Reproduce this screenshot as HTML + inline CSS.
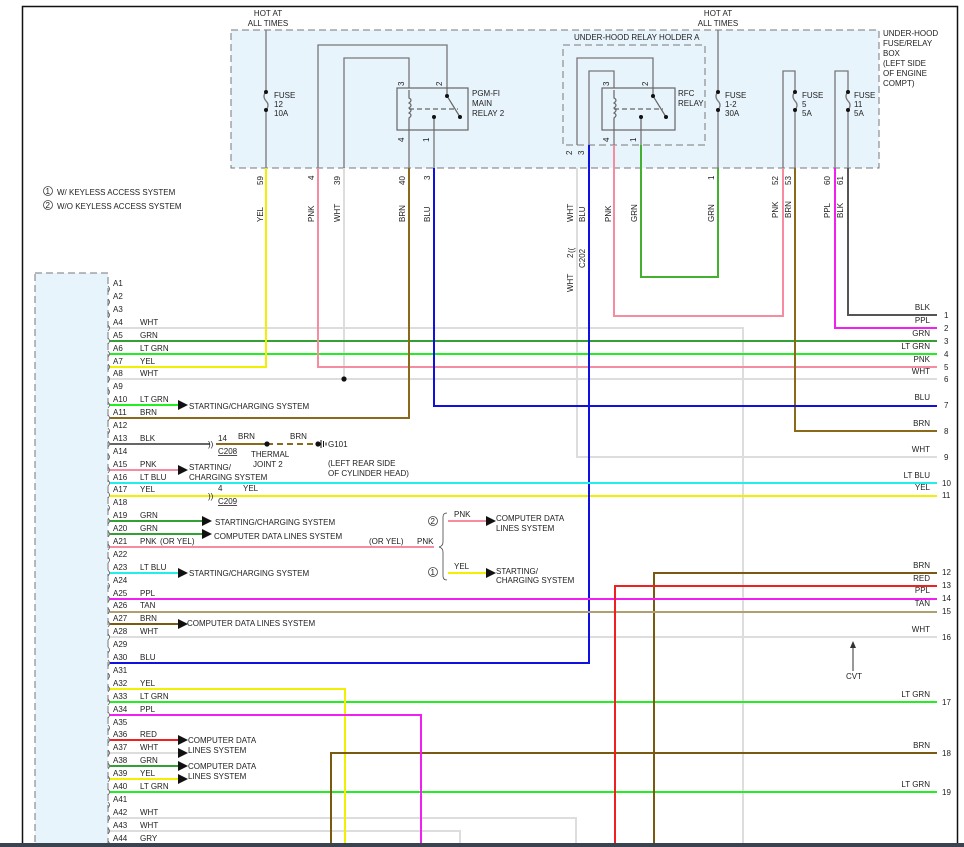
<!DOCTYPE html>
<html><head><meta charset="utf-8"><style>
html,body{margin:0;padding:0;background:#fff;}
svg{display:block;font-family:"Liberation Sans",sans-serif;}
text{font-size:8px;fill:#222;}
</style></head><body>
<svg width="964" height="847" viewBox="0 0 964 847" xmlns="http://www.w3.org/2000/svg">
<!-- frame -->
<path d="M22.5 847 V6.5 H957.5 V847" fill="none" stroke="#111" stroke-width="1.5"/>
<!-- fuse box -->
<rect x="231" y="30" width="648" height="138" fill="#e8f4fc" stroke="#777" stroke-dasharray="7,4"/>
<rect x="563" y="45" width="142" height="100" fill="none" stroke="#777" stroke-dasharray="7,4"/>
<!-- left module -->
<rect x="35" y="273" width="73" height="580" fill="#e8f4fc" stroke="#777" stroke-dasharray="7,4"/>

<text x="268" y="16" text-anchor="middle">HOT AT</text><text x="268" y="26" text-anchor="middle">ALL TIMES</text>
<text x="718" y="16" text-anchor="middle">HOT AT</text><text x="718" y="26" text-anchor="middle">ALL TIMES</text>
<text x="883" y="36">UNDER-HOOD</text><text x="883" y="46">FUSE/RELAY</text><text x="883" y="56">BOX</text><text x="883" y="66">(LEFT SIDE</text><text x="883" y="76">OF ENGINE</text><text x="883" y="86">COMPT)</text>
<text x="574" y="40">UNDER-HOOD RELAY HOLDER A</text>

<g fill="none" stroke="#777" stroke-width="1.3">
<path d="M266 30 V92 M266 110 V168"/>
<path d="M318 168 V45 H447 V88"/>
<path d="M344 168 V58 H409 V88"/>
<path d="M409 130 V168 M434 130 V168"/>
<path d="M577 145 V58 H653 V88"/>
<path d="M589 145 V71 H614 V88"/>
<path d="M614 130 V145 M641 130 V145"/>
<path d="M718 30 V92 M718 110 V168"/>
<path d="M783 168 V71 H795 V92 M795 110 V168"/>
<path d="M835 168 V71 H848 V92 M848 110 V168"/>
<path d="M266 92 q-4 4 0 9 q4 4 0 9 M718 92 q-4 4 0 9 q4 4 0 9 M795 92 q-4 4 0 9 q4 4 0 9 M848 92 q-4 4 0 9 q4 4 0 9"/>
</g>
<g fill="#111"><circle cx="266" cy="92" r="2"/><circle cx="266" cy="110" r="2"/><circle cx="718" cy="92" r="2"/><circle cx="718" cy="110" r="2"/><circle cx="795" cy="92" r="2"/><circle cx="795" cy="110" r="2"/><circle cx="848" cy="92" r="2"/><circle cx="848" cy="110" r="2"/></g>
<text x="274" y="98">FUSE</text><text x="274" y="107">12</text><text x="274" y="116">10A</text>
<text x="725" y="98">FUSE</text><text x="725" y="107">1-2</text><text x="725" y="116">30A</text>
<text x="802" y="98">FUSE</text><text x="802" y="107">5</text><text x="802" y="116">5A</text>
<text x="854" y="98">FUSE</text><text x="854" y="107">11</text><text x="854" y="116">5A</text>
<!-- relays -->
<g fill="none" stroke="#666" stroke-width="1.2">
<rect x="397" y="88" width="71" height="42"/>
<path d="M409 90 V98 q4 2 0 5 q4 2 0 5 q4 2 0 5 q4 2 0 5 V130 M447 88 V96 L460 117 M434 117 V130"/>
<path d="M409 109 H458" stroke-dasharray="5,3"/>
<rect x="602" y="88" width="73" height="42"/>
<path d="M614 90 V98 q4 2 0 5 q4 2 0 5 q4 2 0 5 q4 2 0 5 V130 M653 88 V96 L666 117 M641 117 V130"/>
<path d="M614 109 H663" stroke-dasharray="5,3"/>
</g>
<g fill="#111"><circle cx="447" cy="96" r="2"/><circle cx="460" cy="117" r="2"/><circle cx="434" cy="117" r="2"/><circle cx="653" cy="96" r="2"/><circle cx="666" cy="117" r="2"/><circle cx="641" cy="117" r="2"/></g>
<text x="472" y="96">PGM-FI</text><text x="472" y="106">MAIN</text><text x="472" y="116">RELAY 2</text>
<text x="678" y="96">RFC</text><text x="678" y="106">RELAY</text>
<!-- rotated labels -->
<g>
<text transform="translate(404,86) rotate(-90)">3</text><text transform="translate(442,86) rotate(-90)">2</text>
<text transform="translate(404,142) rotate(-90)">4</text><text transform="translate(429,142) rotate(-90)">1</text>
<text transform="translate(609,86) rotate(-90)">3</text><text transform="translate(648,86) rotate(-90)">2</text>
<text transform="translate(609,142) rotate(-90)">4</text><text transform="translate(636,142) rotate(-90)">1</text>
<text transform="translate(572,155) rotate(-90)">2</text><text transform="translate(584,155) rotate(-90)">3</text>
<text transform="translate(263,185) rotate(-90)">59</text><text transform="translate(314,180) rotate(-90)">4</text>
<text transform="translate(340,185) rotate(-90)">39</text><text transform="translate(405,185) rotate(-90)">40</text>
<text transform="translate(430,180) rotate(-90)">3</text><text transform="translate(714,180) rotate(-90)">1</text>
<text transform="translate(778,185) rotate(-90)">52</text><text transform="translate(791,185) rotate(-90)">53</text>
<text transform="translate(830,185) rotate(-90)">60</text><text transform="translate(843,185) rotate(-90)">61</text>
<text transform="translate(263,222) rotate(-90)">YEL</text><text transform="translate(314,222) rotate(-90)">PNK</text>
<text transform="translate(340,222) rotate(-90)">WHT</text><text transform="translate(405,222) rotate(-90)">BRN</text>
<text transform="translate(430,222) rotate(-90)">BLU</text><text transform="translate(573,222) rotate(-90)">WHT</text>
<text transform="translate(585,222) rotate(-90)">BLU</text><text transform="translate(611,222) rotate(-90)">PNK</text>
<text transform="translate(637,222) rotate(-90)">GRN</text><text transform="translate(714,222) rotate(-90)">GRN</text>
<text transform="translate(778,218) rotate(-90)">PNK</text><text transform="translate(791,218) rotate(-90)">BRN</text>
<text transform="translate(830,218) rotate(-90)">PPL</text><text transform="translate(843,218) rotate(-90)">BLK</text>
<text transform="translate(573,292) rotate(-90)">WHT</text><text transform="translate(573,258) rotate(-90)">2</text>
<text transform="translate(585,268) rotate(-90)">C202</text>
</g>
<circle cx="48" cy="191" r="4.5" fill="none" stroke="#444" stroke-width=".8"/><text x="45.5" y="194" font-size="7">1</text>
<circle cx="48" cy="205" r="4.5" fill="none" stroke="#444" stroke-width=".8"/><text x="45.5" y="208" font-size="7">2</text>
<text x="57" y="195">W/ KEYLESS ACCESS SYSTEM</text><text x="57" y="209">W/O KEYLESS ACCESS SYSTEM</text>

<!-- wires -->
<g fill="none" stroke-width="2">
<path d="M743 847 V328 H110" stroke="#ddd"/>
<path d="M577 168 V457 H937" stroke="#ddd"/>
<path d="M344 168 V379 M110 379 H937" stroke="#ddd"/>
<path d="M110 637 H937" stroke="#ddd"/>
<path d="M110 818 H576 V847" stroke="#ddd"/>
<path d="M110 831 H460 V847" stroke="#ddd"/>
<path d="M110 844 H447" stroke="#ccc"/>
<path d="M110 753 H180" stroke="#ddd"/>
<path d="M110 341 H937" stroke="#33a033"/>
<path d="M641 145 V277 H718 V168" stroke="#44b030"/>
<path d="M110 354 H937 M110 405 H180 M110 702 H937 M110 792 H937" stroke="#22ee22"/>
<path d="M266 168 V367 H110" stroke="#f2f000"/>
<path d="M110 496 H937" stroke="#f2f000"/>
<path d="M110 689 H345 V847" stroke="#f2f000"/>
<path d="M110 779 H180 M448 573 H488" stroke="#f2f000"/>
<path d="M318 168 V367 H937" stroke="#f58ca0"/>
<path d="M614 145 V316 H783 V168" stroke="#f58ca0"/>
<path d="M110 470 H180 M110 547 H434 M448 521 H488" stroke="#f58ca0"/>
<path d="M409 168 V418 H110" stroke="#8a6a1a"/>
<path d="M795 168 V431 H937" stroke="#8a6a1a"/>
<path d="M110 624 H180" stroke="#7a5a10"/>
<path d="M937 573 H654 V847 M937 753 H331 V847" stroke="#7a5a10"/>
<path d="M434 168 V406 H937" stroke="#1010e0"/>
<path d="M589 145 V663 H110" stroke="#1010e0"/>
<path d="M110 483 H937 M110 573 H180" stroke="#22eeee"/>
<path d="M835 168 V328 H937" stroke="#f020f0"/>
<path d="M110 599 H937" stroke="#f020f0"/>
<path d="M110 715 H421 V847" stroke="#f020f0"/>
<path d="M110 612 H937" stroke="#b0a070"/>
<path d="M937 586 H615 V847 M110 740 H180" stroke="#f02020"/>
<path d="M848 168 V315 H937" stroke="#555"/>
<path d="M110 444 H210" stroke="#666"/>
<path d="M110 521 H205 M110 534 H205 M110 766 H180" stroke="#33a033"/>
<path d="M216 444 H267" stroke="#8a6a1a"/>
<path d="M267 444 H318" stroke="#8a6a1a" stroke-dasharray="6,4"/>
</g>
<circle cx="344" cy="379" r="2.6" fill="#111"/>
<circle cx="267" cy="444" r="2.6" fill="#111"/><circle cx="318" cy="444" r="2.6" fill="#111"/>
<path d="M321 440 V448 M323.5 441 V447 M326 442.5 V445.5" stroke="#111" stroke-width="1"/>
<text x="208" y="447" font-size="9">))</text><text x="208" y="499" font-size="9">))</text>
<text x="569" y="252" font-size="8" transform="rotate(-90 572 250)">((</text>
<!-- arrows -->
<g fill="#111">
<polygon points="178,400 188,405 178,410"/><polygon points="178,465 188,470 178,475"/>
<polygon points="202,516 212,521 202,526"/><polygon points="202,529 212,534 202,539"/>
<polygon points="178,568 188,573 178,578"/><polygon points="178,619 188,624 178,629"/>
<polygon points="178,735 188,740 178,745"/><polygon points="178,748 188,753 178,758"/>
<polygon points="178,761 188,766 178,771"/><polygon points="178,774 188,779 178,784"/>
<polygon points="486,516 496,521 486,526"/><polygon points="486,568 496,573 486,578"/>
</g>
<text x="189" y="409">STARTING/CHARGING SYSTEM</text>
<text x="189" y="470">STARTING/</text><text x="189" y="480">CHARGING SYSTEM</text>
<text x="215" y="525">STARTING/CHARGING SYSTEM</text>
<text x="214" y="539">COMPUTER DATA LINES SYSTEM</text>
<text x="189" y="576">STARTING/CHARGING SYSTEM</text>
<text x="187" y="626">COMPUTER DATA LINES SYSTEM</text>
<text x="188" y="743">COMPUTER DATA</text><text x="188" y="753">LINES SYSTEM</text>
<text x="188" y="769">COMPUTER DATA</text><text x="188" y="779">LINES SYSTEM</text>
<text x="496" y="521">COMPUTER DATA</text><text x="496" y="531">LINES SYSTEM</text>
<text x="496" y="574">STARTING/</text><text x="496" y="583">CHARGING SYSTEM</text>
<text x="454" y="517">PNK</text><text x="454" y="569">YEL</text>
<text x="160" y="544">(OR YEL)</text><text x="369" y="544">(OR YEL)</text><text x="417" y="544">PNK</text>
<path d="M447 513 q-4 0 -4 4 V542 q0 4 -4 5 q4 1 4 5 V576 q0 4 4 4" fill="none" stroke="#444" stroke-width=".8"/>
<circle cx="433" cy="521" r="4.5" fill="none" stroke="#444" stroke-width=".8"/><text x="430.5" y="524" font-size="7">2</text>
<circle cx="433" cy="572" r="4.5" fill="none" stroke="#444" stroke-width=".8"/><text x="430.5" y="575" font-size="7">1</text>
<text x="218" y="441">14</text><text x="218" y="454" text-decoration="underline">C208</text>
<text x="238" y="439">BRN</text><text x="290" y="439">BRN</text>
<text x="251" y="457">THERMAL</text><text x="253" y="467">JOINT 2</text>
<text x="328" y="447">G101</text><text x="328" y="466">(LEFT REAR SIDE</text><text x="328" y="476">OF CYLINDER HEAD)</text>
<text x="218" y="491">4</text><text x="243" y="491">YEL</text><text x="218" y="504" text-decoration="underline">C209</text>
<path d="M853 671 V645" stroke="#333" stroke-width="1"/><polygon points="850,648 853,641 856,648" fill="#333"/>
<text x="846" y="679">CVT</text>

<!-- left row labels -->
<g>
<text x="113" y="286">A1</text><text x="113" y="299">A2</text><text x="113" y="312">A3</text>
<text x="113" y="325">A4</text><text x="140" y="325">WHT</text>
<text x="113" y="338">A5</text><text x="140" y="338">GRN</text>
<text x="113" y="351">A6</text><text x="140" y="351">LT GRN</text>
<text x="113" y="364">A7</text><text x="140" y="364">YEL</text>
<text x="113" y="376">A8</text><text x="140" y="376">WHT</text>
<text x="113" y="389">A9</text>
<text x="113" y="402">A10</text><text x="140" y="402">LT GRN</text>
<text x="113" y="415">A11</text><text x="140" y="415">BRN</text>
<text x="113" y="428">A12</text>
<text x="113" y="441">A13</text><text x="140" y="441">BLK</text>
<text x="113" y="454">A14</text>
<text x="113" y="467">A15</text><text x="140" y="467">PNK</text>
<text x="113" y="480">A16</text><text x="140" y="480">LT BLU</text>
<text x="113" y="492">A17</text><text x="140" y="492">YEL</text>
<text x="113" y="505">A18</text>
<text x="113" y="518">A19</text><text x="140" y="518">GRN</text>
<text x="113" y="531">A20</text><text x="140" y="531">GRN</text>
<text x="113" y="544">A21</text><text x="140" y="544">PNK</text>
<text x="113" y="557">A22</text>
<text x="113" y="570">A23</text><text x="140" y="570">LT BLU</text>
<text x="113" y="583">A24</text>
<text x="113" y="596">A25</text><text x="140" y="596">PPL</text>
<text x="113" y="608">A26</text><text x="140" y="608">TAN</text>
<text x="113" y="621">A27</text><text x="140" y="621">BRN</text>
<text x="113" y="634">A28</text><text x="140" y="634">WHT</text>
<text x="113" y="647">A29</text>
<text x="113" y="660">A30</text><text x="140" y="660">BLU</text>
<text x="113" y="673">A31</text>
<text x="113" y="686">A32</text><text x="140" y="686">YEL</text>
<text x="113" y="699">A33</text><text x="140" y="699">LT GRN</text>
<text x="113" y="712">A34</text><text x="140" y="712">PPL</text>
<text x="113" y="725">A35</text>
<text x="113" y="737">A36</text><text x="140" y="737">RED</text>
<text x="113" y="750">A37</text><text x="140" y="750">WHT</text>
<text x="113" y="763">A38</text><text x="140" y="763">GRN</text>
<text x="113" y="776">A39</text><text x="140" y="776">YEL</text>
<text x="113" y="789">A40</text><text x="140" y="789">LT GRN</text>
<text x="113" y="802">A41</text>
<text x="113" y="815">A42</text><text x="140" y="815">WHT</text>
<text x="113" y="828">A43</text><text x="140" y="828">WHT</text>
<text x="113" y="841">A44</text><text x="140" y="841">GRY</text>
</g>
<g fill="none" stroke="#555" stroke-width=".8">
<path d="M108 286 q3 3 0 6 M108 299 q3 3 0 6 M108 312 q3 3 0 6 M108 325 q3 3 0 6 M108 338 q3 3 0 6 M108 351 q3 3 0 6 M108 364 q3 3 0 6 M108 376 q3 3 0 6 M108 389 q3 3 0 6 M108 402 q3 3 0 6 M108 415 q3 3 0 6 M108 428 q3 3 0 6 M108 441 q3 3 0 6 M108 454 q3 3 0 6 M108 467 q3 3 0 6 M108 480 q3 3 0 6 M108 492 q3 3 0 6 M108 505 q3 3 0 6 M108 518 q3 3 0 6 M108 531 q3 3 0 6 M108 544 q3 3 0 6 M108 557 q3 3 0 6 M108 570 q3 3 0 6 M108 583 q3 3 0 6 M108 596 q3 3 0 6 M108 608 q3 3 0 6 M108 621 q3 3 0 6 M108 634 q3 3 0 6 M108 647 q3 3 0 6 M108 660 q3 3 0 6 M108 673 q3 3 0 6 M108 686 q3 3 0 6 M108 699 q3 3 0 6 M108 712 q3 3 0 6 M108 725 q3 3 0 6 M108 737 q3 3 0 6 M108 750 q3 3 0 6 M108 763 q3 3 0 6 M108 776 q3 3 0 6 M108 789 q3 3 0 6 M108 802 q3 3 0 6 M108 815 q3 3 0 6 M108 828 q3 3 0 6 M108 841 q3 3 0 6"/>
</g>
<!-- right labels -->
<g text-anchor="end">
<text x="930" y="310">BLK</text><text x="930" y="323">PPL</text><text x="930" y="336">GRN</text><text x="930" y="349">LT GRN</text>
<text x="930" y="362">PNK</text><text x="930" y="374">WHT</text><text x="930" y="400">BLU</text><text x="930" y="426">BRN</text>
<text x="930" y="452">WHT</text><text x="930" y="478">LT BLU</text><text x="930" y="490">YEL</text><text x="930" y="568">BRN</text>
<text x="930" y="581">RED</text><text x="930" y="593">PPL</text><text x="930" y="606">TAN</text><text x="930" y="632">WHT</text>
<text x="930" y="697">LT GRN</text><text x="930" y="748">BRN</text><text x="930" y="787">LT GRN</text>
</g>
<g>
<text x="944" y="318">1</text><text x="944" y="331">2</text><text x="944" y="344">3</text><text x="944" y="357">4</text>
<text x="944" y="370">5</text><text x="944" y="382">6</text><text x="944" y="408">7</text><text x="944" y="434">8</text>
<text x="944" y="460">9</text><text x="942" y="486">10</text><text x="942" y="498">11</text><text x="942" y="575">12</text>
<text x="942" y="588">13</text><text x="942" y="601">14</text><text x="942" y="614">15</text><text x="942" y="640">16</text>
<text x="942" y="705">17</text><text x="942" y="756">18</text><text x="942" y="795">19</text>
</g>
<rect x="0" y="843" width="964" height="4" fill="#3a4450"/>
</svg>
</body></html>
